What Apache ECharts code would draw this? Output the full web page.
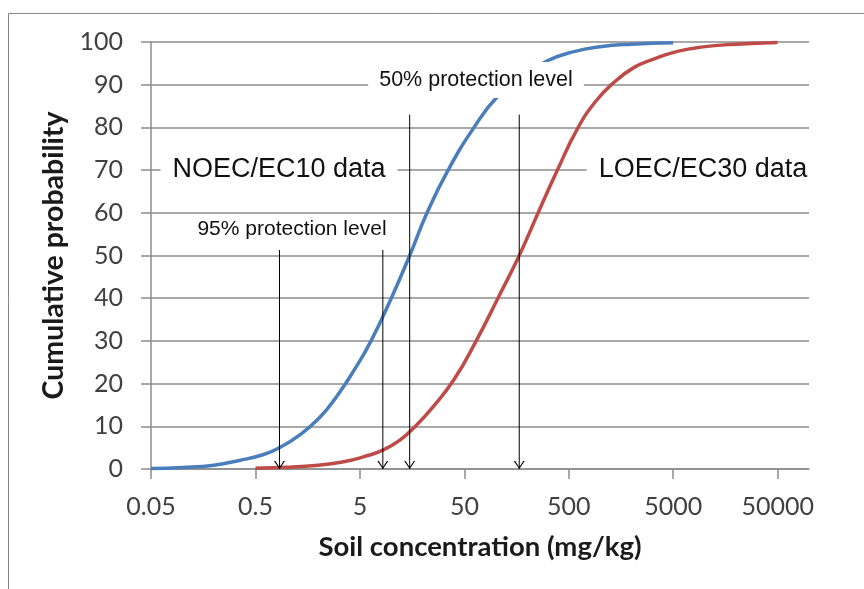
<!DOCTYPE html>
<html>
<head>
<meta charset="utf-8">
<script src="https://cdn.jsdelivr.net/npm/echarts@6/dist/echarts.min.js"></script>
<style>
html,body{margin:0;padding:0;background:#fff;}
#chart{width:864px;height:589px;}
</style>
</head>
<body>
<div id="chart"></div>
<script>
// ---- data ----
const blueConc = [0.05, 0.1, 0.2, 0.35, 0.6, 0.85, 1.3, 2.05, 3.0, 4.5, 6.4, 10, 15, 22, 35, 62, 102, 180, 312, 550, 1000, 2000, 5000];
const blueProb = [0.1, 0.35, 0.9, 2.0, 3.4, 5.0, 7.8, 12, 17, 23.5, 30, 40, 50, 60, 70, 80, 87, 92, 95.6, 97.7, 98.9, 99.5, 99.8];
const redConc = [0.5, 1, 2, 3.5, 5.5, 8.3, 12, 17, 25, 40, 65, 105, 168, 260, 390, 600, 900, 1350, 2100, 3250, 5500, 9200, 20000, 50000];
const redProb = [0.2, 0.4, 0.9, 1.7, 2.9, 4.4, 6.7, 10, 14.5, 21, 30, 40, 50, 60.5, 70, 79.5, 86, 90.5, 94, 96, 97.8, 98.8, 99.5, 99.9];
const arrowConc = [0.85, 8.3, 15, 168];
const arrowTop = [51.3, 51.3, 83, 83];
const xMin = 0.05, xMax = 100000;
const yMin = 0, yMax = 100, yStep = 10;
const xName = 'Soil concentration (mg/kg)';
const yName = 'Cumulative probability';
const noteTexts = ['50% protection level', 'NOEC/EC10 data', 'LOEC/EC30 data', '95% protection level'];

const chart = echarts.init(document.getElementById('chart'), null, {renderer: 'canvas'});
const gridColor = '#8c8c8c';
const zip = (a, b) => a.map((v, i) => [v, b[i]]);
const arrowPath = 'path://M0,0L5,8L10,0L8.7,0L5,6.2L1.3,0Z';

const arrowSeries = arrowConc.map((c, i) => ({
  type: 'line',
  data: [
    {value: [c, arrowTop[i]], symbol: 'none'},
    {value: [c, 0], symbol: arrowPath, symbolSize: [11, 8], symbolOffset: [0, -4]}
  ],
  showSymbol: true,
  lineStyle: {color: '#000', width: 1},
  itemStyle: {color: '#000'},
  silent: true,
  z: 3
}));

const option = {
  animation: false,
  backgroundColor: '#fff',
  grid: {left: 151, right: 55, top: 42, bottom: 120},
  xAxis: {
    type: 'log',
    logBase: 10,
    min: xMin,
    max: xMax,
    interval: 1,
    name: xName,
    nameLocation: 'middle',
    nameGap: 64,
    nameTextStyle: {fontFamily: 'Lato', fontWeight: 'bold', fontSize: 27.5, color: '#1a1a1a'},
    axisLine: {show: true, lineStyle: {color: gridColor, width: 1.5}},
    axisTick: {show: true, length: 10, lineStyle: {color: gridColor, width: 1.5}},
    axisLabel: {
      fontFamily: 'Lato', fontSize: 25, color: '#404040', margin: 25,
      showMaxLabel: false,
      formatter: v => String(parseFloat(Number(v).toPrecision(1)))
    },
    splitLine: {show: false},
    minorTick: {show: false}
  },
  yAxis: {
    type: 'value',
    min: yMin,
    max: yMax,
    interval: yStep,
    name: yName,
    nameLocation: 'middle',
    nameGap: 75,
    nameTextStyle: {fontFamily: 'Lato', fontWeight: 'bold', fontSize: 28.5, color: '#1a1a1a'},
    axisLine: {show: true, lineStyle: {color: gridColor, width: 1.5}},
    axisTick: {show: true, length: 10, lineStyle: {color: gridColor, width: 1.5}},
    axisLabel: {fontFamily: 'Lato', fontSize: 25, color: '#404040', margin: 28},
    splitLine: {show: true, lineStyle: {color: gridColor, width: 1.5}}
  },
  series: [
    {
      type: 'line', data: zip(blueConc, blueProb), smooth: true, showSymbol: false,
      lineStyle: {color: '#4a7ebb', width: 3.5}, silent: true, z: 2
    },
    {
      type: 'line', data: zip(redConc, redProb), smooth: true, showSymbol: false,
      lineStyle: {color: '#be4b48', width: 3.5}, silent: true, z: 2
    }
  ].concat(arrowSeries),
  graphic: [
    {type: 'rect', silent: true, z: 0, shape: {x: 8.5, y: 13.5, width: 1000, height: 1000},
     style: {fill: 'none', stroke: '#858585', lineWidth: 1}},
    {type: 'text', silent: true, z: 100, x: 476, y: 80,
     style: {text: noteTexts[0], font: '21.5px "Liberation Sans", Arial, sans-serif', fill: '#111',
             align: 'center', verticalAlign: 'middle', backgroundColor: '#fff', padding: [7, 11, 7, 11]}},
    {type: 'text', silent: true, z: 100, x: 279, y: 170,
     style: {text: noteTexts[1], font: '27px "Liberation Sans", Arial, sans-serif', fill: '#111',
             align: 'center', verticalAlign: 'middle', backgroundColor: '#fff', padding: [3, 12, 3, 12]}},
    {type: 'text', silent: true, z: 100, x: 703, y: 170,
     style: {text: noteTexts[2], font: '27px "Liberation Sans", Arial, sans-serif', fill: '#111',
             align: 'center', verticalAlign: 'middle', backgroundColor: '#fff', padding: [3, 12, 3, 12]}},
    {type: 'text', silent: true, z: 100, x: 292, y: 229,
     style: {text: noteTexts[3], font: '21px "Liberation Sans", Arial, sans-serif', fill: '#111',
             align: 'center', verticalAlign: 'middle', backgroundColor: '#fff', padding: [2, 4, 2, 4]}}
  ]
};
chart.setOption(option);
</script>
</body>
</html>
